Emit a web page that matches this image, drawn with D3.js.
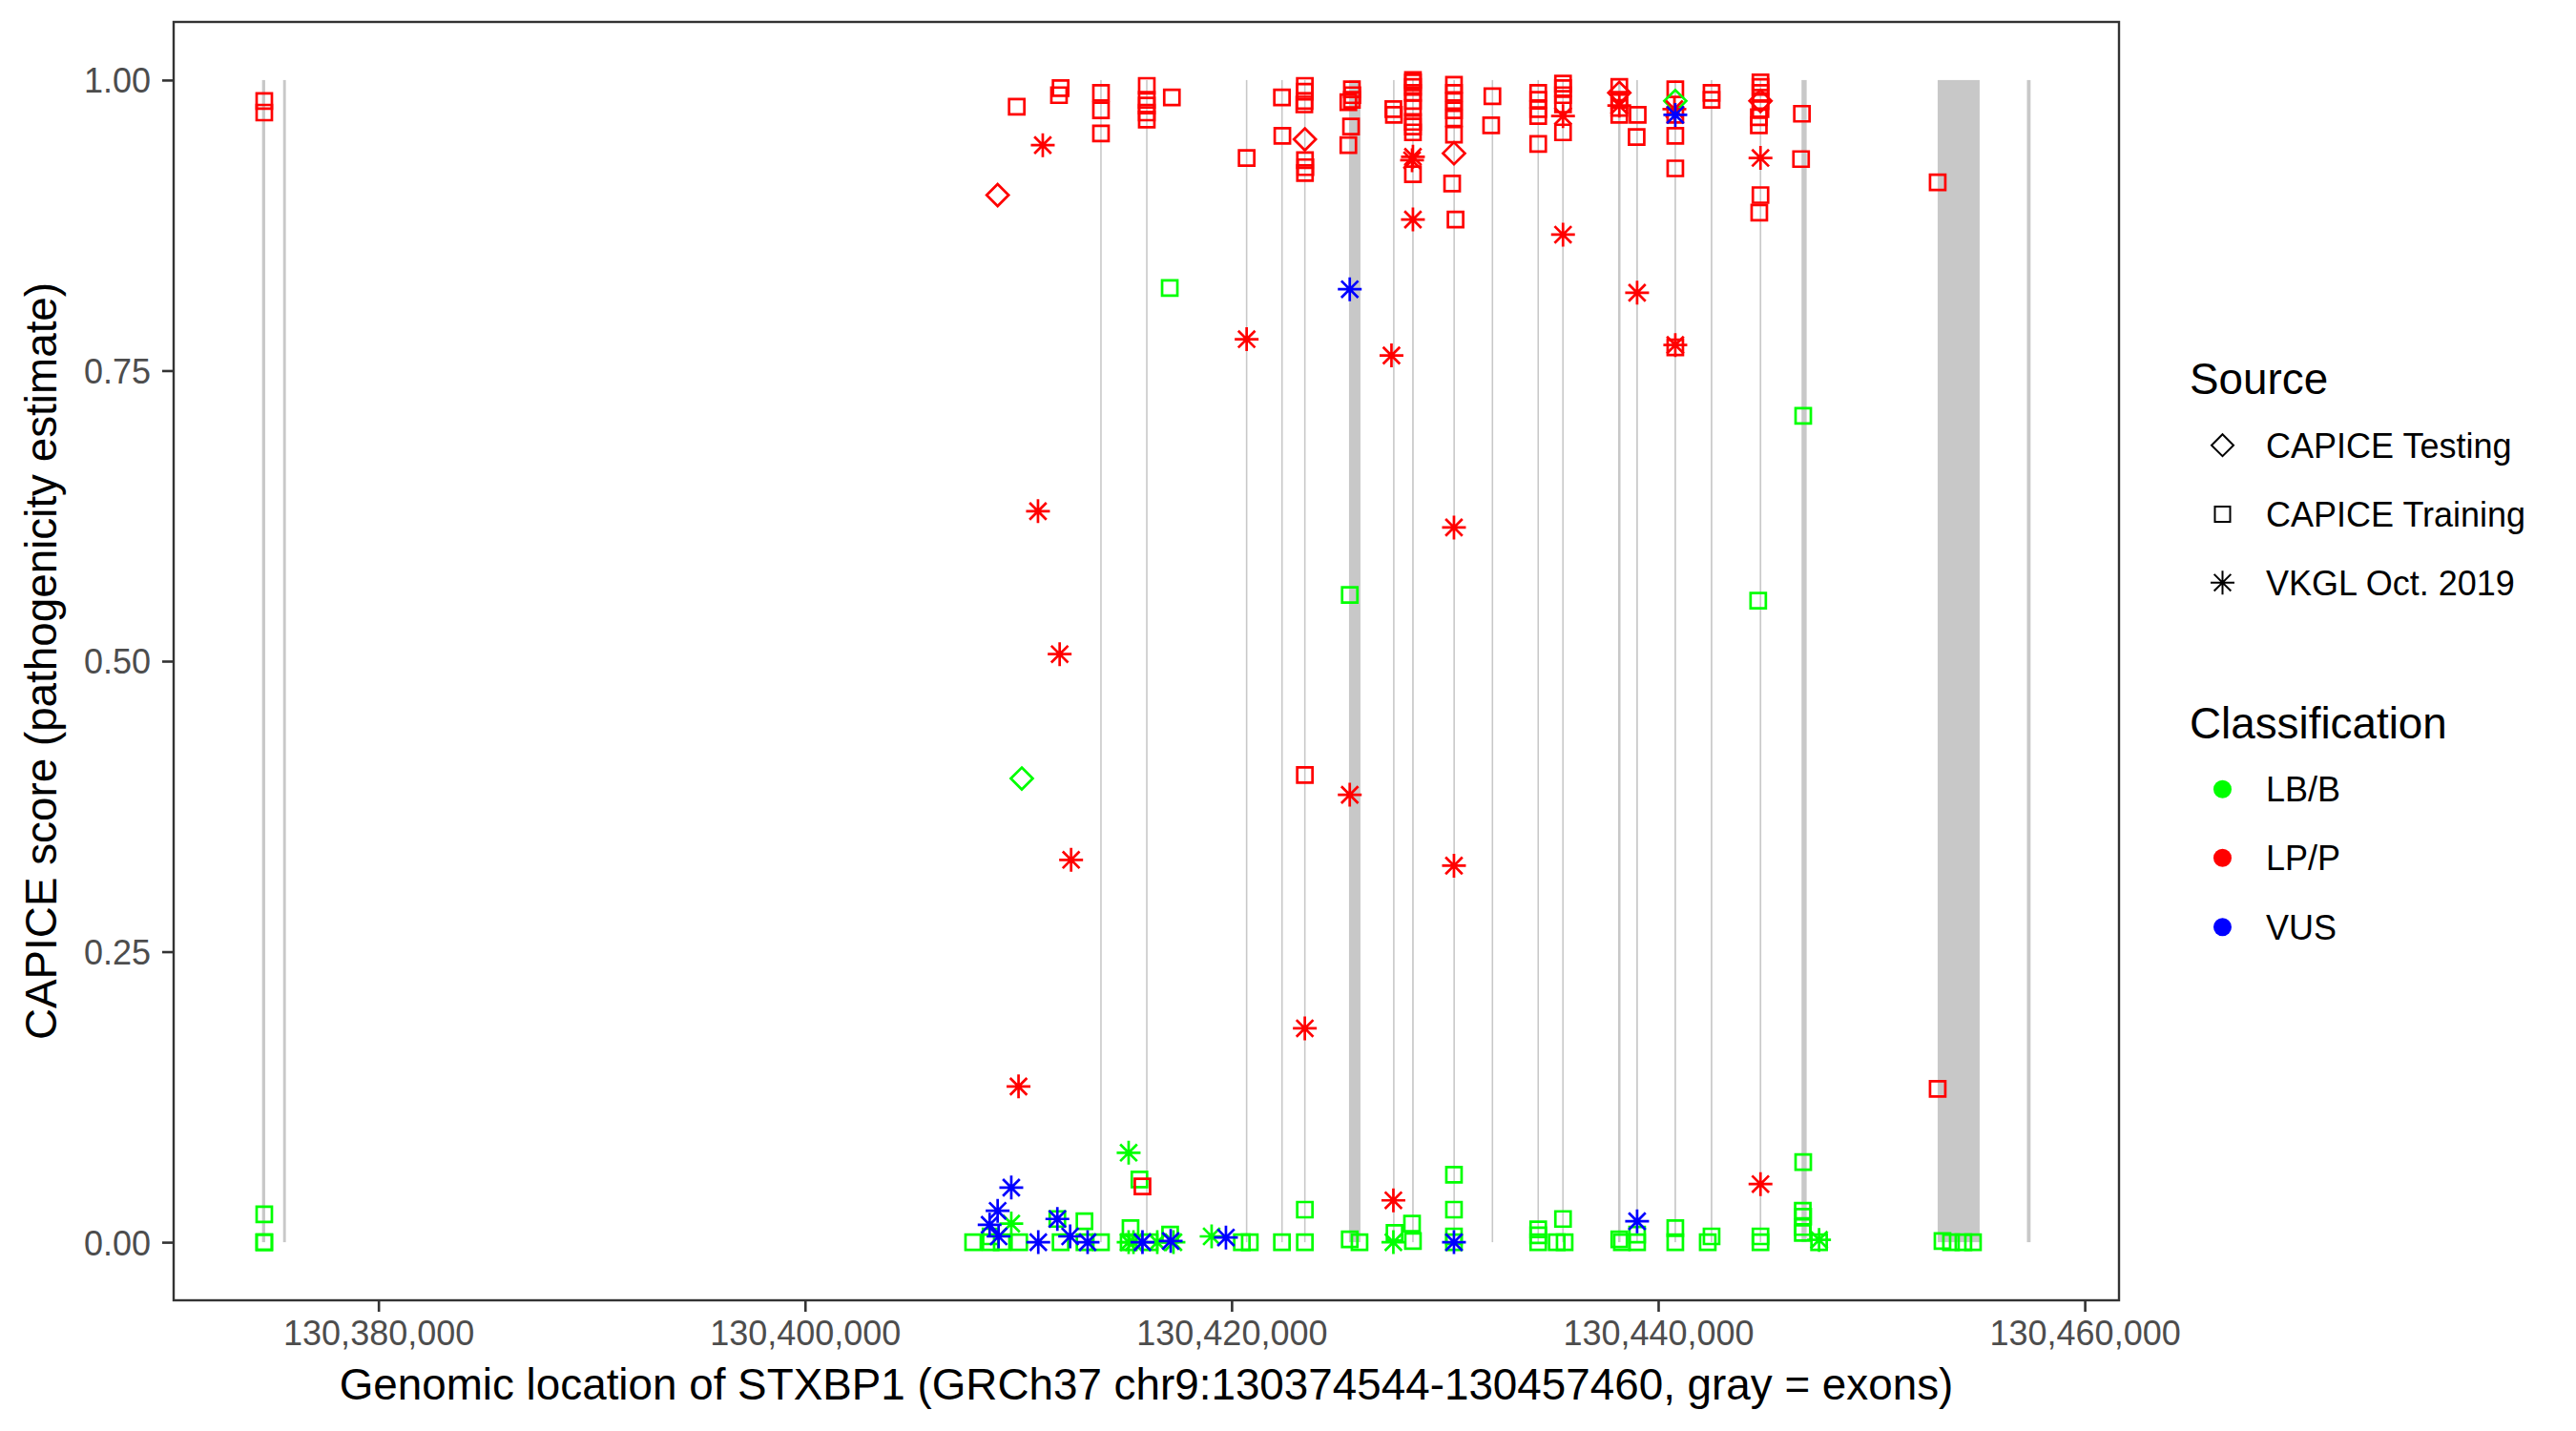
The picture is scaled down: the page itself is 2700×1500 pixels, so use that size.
<!DOCTYPE html>
<html>
<head>
<meta charset="utf-8">
<script src="https://cdn.jsdelivr.net/npm/d3@7"></script>
<style>
html,body{margin:0;padding:0;background:#fff;}
svg text{font-family:"Liberation Sans",Arial,Helvetica,sans-serif;}
</style>
</head>
<body>
<svg id="chart" width="2700" height="1500"></svg>
<script>
// ---------------- DATA ----------------
const sourceNames = ["CAPICE Testing", "CAPICE Training", "VKGL Oct. 2019"];
const classNames = ["LB/B", "LP/P", "VUS"];
const classColors = ["#00FF00", "#FF0000", "#0000FF"];
const yTicks = [0, 0.25, 0.5, 0.75, 1];
const xTicks = [130380000, 130400000, 130420000, 130440000, 130460000];
const geneStart = 130374544, geneEnd = 130457460;

const exonStarts = [130374544,130375530,130413840,130415990,130420670,130422330,130423400,130425505,130427570,130428465,130430400,130432195,130434340,130435500,130438120,130438975,130440765,130442465,130444760,130446721,130453104,130457290];
const exonEnds   = [130374690,130375660,130413910,130416060,130420740,130422400,130423470,130426042,130427640,130428540,130430470,130432265,130434410,130435570,130438235,130439050,130440840,130442540,130444835,130446962,130455072,130457460];

// [genomic position, CAPICE score]
const trainingLB = [
 [130374647,0.024],[130374647,0],[130374647,0],
 [130407882,0],[130408700,0],[130408700,0.005],[130409224,0],[130410042,0],
 [130411831,0.020],[130411984,0],[130413102,0.018],[130413102,0],[130413876,0],
 [130415173,0],[130415262,0.012],[130415678,0.054],[130416157,0],[130417118,0.0066],[130417100,0.821],
 [130420482,0],[130420853,0],[130422361,0],[130423434,0],[130423434,0.028],
 [130425540,0.0025],[130425997,0],[130425540,0.557],
 [130427640,0.008],[130428460,0.016],[130428502,0.001],
 [130430426,0.058],[130430426,0.028],[130430426,0.005],[130430426,0],
 [130434375,0.011],[130434375,0.006],[130434375,0],[130435243,0],[130435538,0.020],[130435614,0],
 [130438177,0.0025],[130438298,0],[130439013,0.0066],[130439013,0],
 [130440803,0.012],[130440803,0],[130442324,0],[130442503,0.005],
 [130444797,0.005],[130444797,0],[130444690,0.552],
 [130446800,0.711],[130446800,0.069],[130446780,0.027],[130446800,0.022],[130446780,0.013],[130446780,0.008],
 [130447544,0],
 [130453330,0.001],[130453730,0],[130454310,0],[130454760,0]
];
const trainingLP = [
 [130374647,0.982],[130374647,0.972],
 [130409926,0.977],
 [130411984,0.993],[130411907,0.987],
 [130413876,0.989],[130413876,0.974],[130413876,0.954],
 [130416023,0.995],[130416023,0.983],[130416023,0.978],[130416023,0.972],[130416023,0.966],
 [130417199,0.985],
 [130420706,0.933],
 [130422361,0.985],[130422380,0.952],
 [130423434,0.995],[130423434,0.990],[130423420,0.982],[130423410,0.979],[130423440,0.931],[130423460,0.925],[130423440,0.920],[130423434,0.402],
 [130425640,0.992],[130425660,0.987],[130425640,0.983],[130425474,0.981],[130425600,0.960],[130425474,0.944],
 [130427585,0.975],[130427610,0.970],
 [130428502,1.000],[130428502,0.998],[130428502,0.994],[130428502,0.989],[130428502,0.982],[130428502,0.976],[130428502,0.964],[130428502,0.960],[130428502,0.955],[130428502,0.919],
 [130430426,0.996],[130430426,0.989],[130430426,0.982],[130430426,0.974],[130430426,0.967],[130430426,0.953],[130430340,0.911],[130430500,0.880],
 [130432228,0.986],[130432170,0.961],
 [130434375,0.989],[130434375,0.983],[130434375,0.975],[130434375,0.969],[130434375,0.945],
 [130435538,0.997],[130435538,0.993],[130435538,0.987],[130435538,0.979],[130435538,0.955],
 [130438177,0.994],[130438177,0.983],[130438177,0.976],[130438177,0.970],
 [130439040,0.970],[130438990,0.951],
 [130440803,0.992],[130440803,0.970],[130440803,0.952],[130440803,0.924],[130440803,0.770],
 [130442503,0.989],[130442503,0.983],
 [130444797,0.998],[130444797,0.994],[130444797,0.989],[130444797,0.982],[130444797,0.975],[130444720,0.968],[130444720,0.961],[130444797,0.901],[130444740,0.886],
 [130446740,0.971],[130446700,0.932],
 [130453104,0.912],[130453104,0.132],
 [130415821,0.048]
];
const testingLB = [[130410163,0.399],[130440803,0.982]];
const testingLP = [[130409031,0.901],[130423434,0.949],[130430426,0.937],[130438177,0.989],[130444797,0.982]];
const vkglLB = [[130409671,0.016],[130415173,0.077],[130415173,0],[130415400,0],[130416515,0],[130417275,0],[130419064,0.005],[130427585,0],[130447544,0.002]];
const vkglLP = [[130411147,0.944],[130410923,0.629],[130411939,0.506],[130412476,0.329],[130410011,0.134],[130420706,0.777],[130425540,0.385],[130423434,0.184],[130427496,0.763],[130427585,0.036],[130428502,0.934],[130428460,0.931],[130428502,0.880],[130430426,0.615],[130430426,0.324],[130435538,0.969],[130435538,0.867],[130438177,0.978],[130439013,0.817],[130440760,0.975],[130440803,0.772],[130444797,0.933],[130444797,0.050]];
const vkglVUS = [[130409671,0.047],[130409031,0.027],[130408656,0.015],[130409076,0.005],[130410936,0],[130411831,0.020],[130412431,0.005],[130413249,0],[130415821,0],[130417145,0.001],[130419735,0.004],[130425540,0.820],[130430426,0],[130439013,0.018],[130440803,0.970]];

// ---------------- LAYOUT ----------------
const svg = d3.select("#chart");
const P = {left:182, right:2221, top:23, bottom:1363};
const pad = 0.05*(geneEnd-geneStart);
const x = d3.scaleLinear().domain([geneStart-pad, geneEnd+pad]).range([P.left, P.right]);
const y = d3.scaleLinear().domain([-0.05, 1.05]).range([P.bottom, P.top]);

const FONT_TICK = 36, FONT_TITLE = 45.8;

// shapes
const shapePath = {
  diamond: "M0,-11.5L11.5,0L0,11.5L-11.5,0Z",
  square: "M-8,-8H8V8H-8Z",
  star: (()=>{const r=12.5, d=r/Math.SQRT2; return `M${-r},0L${r},0M0,${-r}L0,${r}M${-d},${-d}L${d},${d}M${-d},${d}L${d},${-d}`;})()
};

// exons
const exons = exonStarts.map((s,i)=>({s, e:exonEnds[i]}));
svg.append("g").selectAll("rect").data(exons).join("rect")
  .attr("x", d=>x(d.s))
  .attr("width", d=>Math.max(1.4, x(d.e)-x(d.s)))
  .attr("y", y(1)).attr("height", y(0)-y(1))
  .attr("fill", "#c8c8c8");

// points
const groups = [
  {data:trainingLB, shape:"square", cls:0},
  {data:trainingLP, shape:"square", cls:1},
  {data:testingLB, shape:"diamond", cls:0},
  {data:testingLP, shape:"diamond", cls:1},
  {data:vkglLB, shape:"star", cls:0},
  {data:vkglLP, shape:"star", cls:1},
  {data:vkglVUS, shape:"star", cls:2}
];
const pts = svg.append("g");
groups.forEach(g=>{
  pts.append("g").selectAll("path").data(g.data).join("path")
    .attr("transform", d=>`translate(${x(d[0])},${y(d[1])})`)
    .attr("d", shapePath[g.shape])
    .attr("fill", "none")
    .attr("stroke", classColors[g.cls])
    .attr("stroke-width", 2.7)
    .attr("stroke-linejoin", "miter");
});

// panel border
svg.append("rect").attr("x",P.left).attr("y",P.top)
  .attr("width",P.right-P.left).attr("height",P.bottom-P.top)
  .attr("fill","none").attr("stroke","#333333").attr("stroke-width",2.4);

// axes
const xAxis = svg.append("g").attr("transform",`translate(0,${P.bottom})`)
  .call(d3.axisBottom(x).tickValues(xTicks).tickFormat(d3.format(",")).tickSize(12).tickPadding(10));
const yAxis = svg.append("g").attr("transform",`translate(${P.left},0)`)
  .call(d3.axisLeft(y).tickValues(yTicks).tickFormat(d3.format(".2f")).tickSize(12).tickPadding(12));
[xAxis,yAxis].forEach(a=>{
  a.select(".domain").remove();
  a.selectAll(".tick line").attr("stroke","#333333").attr("stroke-width",2.6);
  a.selectAll(".tick text").attr("fill","#4d4d4d").style("font-size",FONT_TICK+"px")
    .style("font-family",'"Liberation Sans",Arial,sans-serif');
});
xAxis.selectAll(".tick text").attr("dy",null).attr("y", 1410-P.bottom);
yAxis.selectAll(".tick text").attr("dy","0.36em");

// axis titles
svg.append("text").attr("x",(P.left+P.right)/2).attr("y",1467)
  .attr("text-anchor","middle").style("font-size",FONT_TITLE+"px").attr("fill","#000")
  .text("Genomic location of STXBP1 (GRCh37 chr9:130374544-130457460, gray = exons)");
svg.append("text").attr("transform",`translate(59,${(P.top+P.bottom)/2}) rotate(-90)`)
  .attr("text-anchor","middle").style("font-size",FONT_TITLE+"px").attr("fill","#000")
  .text("CAPICE score (pathogenicity estimate)");

// legends
const keyX = 2329.5, labX = 2375, titleX = 2295;
const lg1 = svg.append("g");
lg1.append("text").attr("x",titleX).attr("y",412.7).style("font-size",FONT_TITLE+"px").text("Source");
const srcShapes = ["diamond","square","star"];
const srcY = [466.7, 539, 610.7];
sourceNames.forEach((n,i)=>{
  lg1.append("path").attr("transform",`translate(${keyX},${srcY[i]})`)
    .attr("d", shapePath[srcShapes[i]]).attr("fill","none").attr("stroke","#000").attr("stroke-width",2);
  lg1.append("text").attr("x",labX).attr("y",srcY[i]).attr("dy","0.36em")
    .style("font-size",FONT_TICK+"px").attr("fill","#000").text(n);
});
const lg2 = svg.append("g");
lg2.append("text").attr("x",titleX).attr("y",774).style("font-size",FONT_TITLE+"px").text("Classification");
const clsY = [827.3, 899.3, 971.7];
classNames.forEach((n,i)=>{
  lg2.append("circle").attr("cx",keyX).attr("cy",clsY[i]).attr("r",9.5).attr("fill",classColors[i]);
  lg2.append("text").attr("x",labX).attr("y",clsY[i]).attr("dy","0.36em")
    .style("font-size",FONT_TICK+"px").attr("fill","#000").text(n);
});
</script>
</body>
</html>
